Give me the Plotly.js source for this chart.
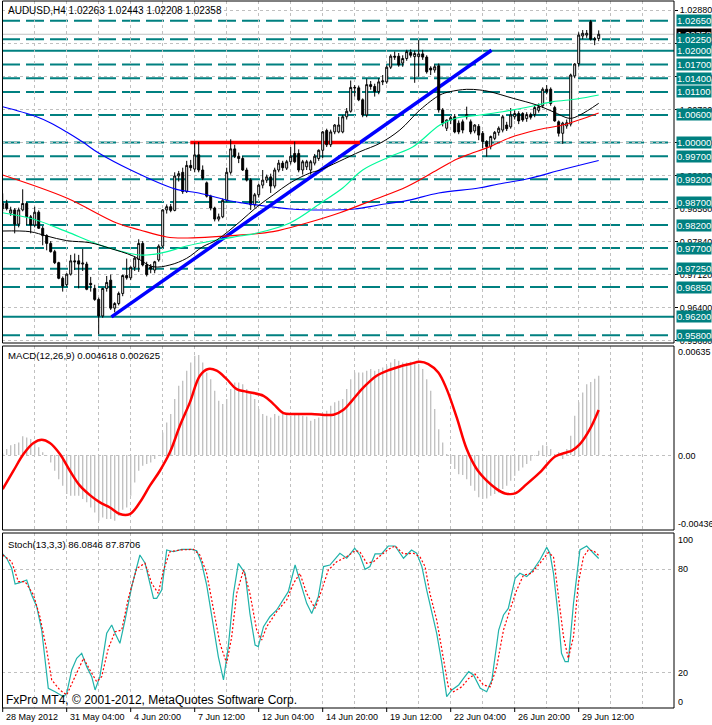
<!DOCTYPE html>
<html><head><meta charset="utf-8">
<script src="https://cdn.plot.ly/plotly-3.0.1.min.js"></script>
<style>html,body{margin:0;padding:0;background:#fff}#chart{width:712px;height:725px}</style>
</head><body><div id="chart"></div>
<script>
const symbol = 'AUDUSD,H4';
const open = [
.9856,.9867,.9846,.9853,.9822,.9853,.9867,.9838,.9820,.9848,
.9813,.9797,.9780,.9762,.9738,.9704,.9690,.9713,.9742,.9742,
.9735,.9735,.9693,.9682,.9658,.9622,.9682,.9700,.9639,.9649,
.9671,.9710,.9705,.9728,.9745,.9780,.9733,.9729,.9722,.9744,
.9774,.9853,.9860,.9852,.9927,.9935,.9893,.9950,.9942,.9973,
.9940,.9912,.9883,.9857,.9833,.9838,.9874,.9935,.9986,.9970,
.9965,.9940,.9918,.9864,.9886,.9907,.9918,.9925,.9905,.9940,
.9955,.9944,.9958,.9976,.9976,.9940,.9947,.9940,.9955,.9965,
.9983,1.0026,.9995,1.0023,1.0023,1.0023,1.0056,1.0068,1.0120,1.0119,
1.0093,1.0060,1.0126,1.0122,1.0111,1.0132,1.0132,1.0164,1.0188,1.0188,
1.0173,1.0183,1.0196,1.0187,1.0187,1.0193,1.0186,1.0162,1.0158,1.0167,
1.0071,1.0031,1.0049,1.0056,1.0042,1.0045,1.0056,1.0045,1.0025,1.0035,
1.0020,1.0002,.9991,1.0009,1.0022,1.0027,1.0038,1.0034,1.0056,1.0063,
1.0063,1.0052,1.0061,1.0061,1.0070,1.0080,1.0116,1.0116,1.0076,1.0045,
1.0020,1.0036,1.0040,1.0145,1.0172,1.0232,1.0234,1.0263,1.0226,1.02263];
const high = [
.9889,.9875,.9860,.9857,.9858,.9898,.9870,.9842,.9860,.9852,
.9818,.9800,.9785,.9766,.9740,.9708,.9715,.9755,.9758,.9755,
.9768,.9740,.9707,.9690,.9662,.9683,.9709,.9712,.9652,.9675,
.9712,.9747,.9730,.9752,.9789,.9785,.9740,.9735,.9742,.9778,
.9855,.9865,.9866,.9935,.9938,.9945,.9960,.9962,1.0000,1.0001,
.9950,.9915,.9886,.9860,.9845,.9878,.9945,1.0007,.9995,.9978,
.9970,.9945,.9922,.9890,.9910,.9940,.9930,.9932,.9945,.9962,
.9960,.9962,.9990,1.0002,.9985,.9962,.9962,.9962,.9975,.9985,
1.0025,1.0030,1.0028,1.0040,1.0056,1.0060,1.0075,1.0135,1.0125,1.0124,
1.0096,1.0139,1.0134,1.0128,1.0140,1.0147,1.0168,1.0192,1.0198,1.0195,
1.0190,1.0202,1.0203,1.0200,1.0223,1.0202,1.0190,1.0166,1.0170,1.0172,
1.0075,1.0050,1.0058,1.0062,1.0048,1.0050,1.0078,1.0050,1.0040,1.0040,
1.0025,1.0005,1.0015,1.0025,1.0035,1.0060,1.0045,1.0075,1.0070,1.0068,
1.0066,1.0066,1.0065,1.0080,1.0085,1.0120,1.0125,1.0120,1.0080,1.0048,
1.0045,1.0050,1.0150,1.0173,1.0240,1.0245,1.0245,1.0267,1.0230,1.02443];
const low = [
.9850,.9852,.9840,.9802,.9815,.9850,.9820,.9802,.9815,.9812,
.9776,.9765,.9760,.9735,.9702,.9675,.9686,.9710,.9722,.9682,
.9720,.9678,.9675,.9655,.9582,.9618,.9675,.9635,.9630,.9645,
.9665,.9701,.9700,.9720,.9718,.9730,.9708,.9715,.9715,.9740,
.9770,.9845,.9848,.9850,.9915,.9888,.9890,.9938,.9935,.9935,
.9918,.9880,.9852,.9828,.9828,.9835,.9870,.9930,.9966,.9955,
.9938,.9915,.9853,.9858,.9880,.9900,.9912,.9890,.9900,.9935,
.9938,.9940,.9952,.9955,.9935,.9930,.9940,.9930,.9950,.9960,
.9966,.9990,.9990,1.0018,1.0020,1.0020,1.0050,1.0065,1.0100,1.0090,
1.0055,1.0055,1.0115,1.0100,1.0105,1.0125,1.0128,1.0160,1.0180,1.0165,
1.0165,1.0178,1.0185,1.0130,1.0143,1.0180,1.0150,1.0147,1.0152,1.0065,
1.0035,1.0025,1.0040,1.0020,1.0018,1.0020,1.0050,1.0018,1.0020,1.0005,
.9987,.9969,.9985,1.0005,1.0015,1.0022,1.0025,1.0030,1.0050,1.0040,
1.0045,1.0045,1.0050,1.0055,1.0065,1.0075,1.0105,1.0080,1.0045,1.0013,
.9997,1.0030,1.0035,1.0140,1.0165,1.0225,1.0228,1.0222,1.0212,1.02208];
const close = [
.9867,.9856,.9853,.9822,.9853,.9867,.9838,.9820,.9848,.9813,
.9797,.9780,.9762,.9738,.9704,.9687,.9713,.9742,.9740,.9735,
.9737,.9680,.9690,.9658,.9622,.9682,.9695,.9639,.9649,.9671,
.9710,.9705,.9728,.9748,.9780,.9733,.9712,.9724,.9740,.9774,
.9853,.9860,.9852,.9927,.9932,.9893,.9950,.9945,.9973,.9940,
.9922,.9883,.9857,.9833,.9838,.9874,.9935,.9986,.9970,.9965,
.9940,.9918,.9864,.9886,.9907,.9918,.9925,.9905,.9940,.9955,
.9945,.9958,.9970,.9958,.9940,.9958,.9958,.9958,.9970,.9983,
1.0023,.9995,1.0023,1.0038,1.0038,1.0056,1.0068,1.0120,1.0119,1.0093,
1.0060,1.0126,1.0122,1.0111,1.0132,1.0134,1.0164,1.0188,1.0186,1.0169,
1.0183,1.0198,1.0190,1.0194,1.0193,1.0186,1.0154,1.0158,1.0165,1.0071,
1.0042,1.0049,1.0054,1.0023,1.0023,1.0027,1.0061,1.0023,1.0038,1.0016,
1.0002,.9991,1.0013,1.0022,1.0031,1.0056,1.0030,1.0060,1.0063,1.0047,
1.0049,1.0061,1.0055,1.0076,1.0078,1.0116,1.0111,1.0085,1.0047,1.0020,
1.0042,1.0043,1.0147,1.0171,1.0234,1.0238,1.0238,1.0225,1.0224,1.02358];

const maBlackX = [0,6.8,11,16,21.8,26.8,32.6,37.6,41.8,46,50,53.5,59.3,63.6,67.6,71.8,76.8,79.3,89.3,94.3,99.3,104.3,109.3,111.8,116,119.3,121.8,127.6,133.5,137.6,141.8,144.3,149];
const maBlackY = [0.98070,0.98056,0.97962,0.97860,0.97816,0.97694,0.97526,0.97293,0.97330,0.97476,0.97728,0.97875,0.98273,0.98600,0.98855,0.99116,0.99334,0.99400,0.99799,0.99982,1.00272,1.00707,1.01034,1.01106,1.01158,1.01143,1.01106,1.00962,1.00816,1.00670,1.00526,1.00598,1.00853];
const maGreenX = [0,7.6,16,24.3,34.3,40,46,53.5,59.3,63.6,71.8,80,85,90,96.8,102.6,109.3,113.5,119.3,125,132.6,137.6,143.5,149];
const maGreenY = [0.98469,0.98332,0.98056,0.97766,0.97548,0.97598,0.97744,0.97875,0.97962,0.98027,0.98245,0.98709,0.99008,0.99400,0.99690,0.99908,1.00381,1.00533,1.00598,1.00670,1.00795,1.00888,1.00947,1.01034];
const maRedX = [0,16,28.5,34.3,41,45,59,67.6,76,84.3,92.6,101,108.6,113.6,116.8,121.8,126.8,133.5,140,149];
const maRedY = [0.99291,0.98790,0.98245,0.98092,0.97940,0.97918,0.97983,0.98056,0.98245,0.98469,0.98746,0.99036,0.99400,0.99640,0.99749,0.99909,1.00104,1.00272,1.00381,1.00642];
const maBlueX = [0,8,12,16,20,24,32,43,49,57,60,72,80,88,94,101,109,119,124,131,140,149];
const maBlueY = [1.00779,1.00577,1.00424,1.00228,1.00010,0.99770,0.99400,0.98990,0.98899,0.98724,0.98681,0.98550,0.98528,0.98550,0.98637,0.98732,0.98899,0.99008,0.99095,0.99204,0.99411,0.99607];

const trendX = [27.2, 122.2];
const trendY = [0.9620, 1.0201];
const resistX = [46.9, 89.3];
const resistY = [1.0000, 1.0000];

const levels = [1.0265,1.0225,1.0200,1.0170,1.0140,1.0110,1.0060,1.0000,0.9970,0.9920,0.9870,0.9820,0.9770,0.9725,0.9685,0.9620,0.9580];
const solidLevels = [1.0200, 0.9620];
const priceTicks = [1.0288,1.0216,1.0144,1.0072,1.0000,0.9928,0.9856,0.9784,0.9712,0.9640,0.9568];

const macdHist = [
0.0001,0.00035,0.00058,0.00064,0.00074,0.00109,0.00103,0.00093,0.00074,0.00045,
0.00016,-0.00004,-0.00043,-0.00091,-0.0014,-0.00178,-0.00227,-0.00237,-0.00237,-0.00237,
-0.00256,-0.00275,-0.00305,-0.00334,-0.00382,-0.00363,-0.00372,-0.00372,-0.00382,-0.00353,
-0.00318,-0.00305,-0.00237,-0.00159,-0.00091,-0.00062,-0.00052,-0.00043,-0.00023,-0.00004,
0.00132,0.0019,0.00239,0.00326,0.00404,0.00433,0.00491,0.00539,0.00578,0.00582,
0.00539,0.00481,0.00442,0.00374,0.00316,0.00297,0.00326,0.00384,0.00423,0.00423,
0.00413,0.00384,0.00355,0.00326,0.00268,0.00239,0.00229,0.00219,0.00239,0.00229,
0.00239,0.00233,0.00229,0.00233,0.00239,0.00229,0.00225,0.002,0.0021,0.00219,
0.00229,0.00258,0.00287,0.00307,0.00316,0.00326,0.00384,0.00442,0.00481,0.00481,
0.00481,0.00491,0.00501,0.00491,0.00501,0.0051,0.0052,0.00539,0.00559,0.00549,
0.00539,0.00539,0.00543,0.00539,0.0053,0.00501,0.00442,0.00374,0.00268,0.00151,
0.00074,0.00006,-0.00052,-0.00081,-0.00111,-0.00116,-0.0014,-0.00178,-0.00208,-0.00246,
-0.00256,-0.00252,-0.00237,-0.00227,-0.00217,-0.00198,-0.00178,-0.00149,-0.0012,-0.00091,
-0.00072,-0.00052,-0.00033,-0.00004,0.00025,0.00058,0.00054,0.00035,0.00006,0.00016,
-0.00023,0.00035,0.00113,0.00229,0.00307,0.00365,0.00413,0.00425,0.00445,0.004618];
const macdSigX = [0,2.7,5.2,7.7,9.75,11.8,14.3,16.8,19.3,21.8,24.3,26.8,29.3,31.8,34.3,36.8,39.3,41.8,44.3,46.8,49.3,51.4,53.5,56,58.5,61,65.2,67.7,70.2,72.7,77.2,82.7,85.2,87.3,90.2,93.5,96.8,99.3,101.8,104.3,106.4,108.9,111,113.5,116,118.5,121,123.5,125.6,128.1,131,134.3,138.1,141,142.2,144.3,146.8,149];
const macdSigY = [-0.00198,-0.00091,0.00006,0.0007,0.00089,0.0007,0.00006,-0.00091,-0.00178,-0.00233,-0.00275,-0.00305,-0.00343,-0.00343,-0.00275,-0.00178,-0.00091,0.00016,0.00171,0.00307,0.00462,0.00501,0.00491,0.00442,0.00384,0.00369,0.00345,0.00297,0.00244,0.00239,0.00239,0.00235,0.00264,0.00316,0.00394,0.00462,0.00497,0.00516,0.0053,0.00543,0.0053,0.00481,0.00384,0.00219,0.00035,-0.00081,-0.00149,-0.00198,-0.00223,-0.00223,-0.00169,-0.00101,-0.00008,0.00016,0.00025,0.00064,0.00151,0.002625];

const stochMainX = [0,1,2.25,3.1,4.3,6,7.25,8.5,9.75,10.6,11.4,13.1,15.2,16,17.25,18.5,19.75,21,22.25,23.1,24.3,26,27.25,28.1,29.3,30.6,32.25,34.3,35.6,37.7,38.5,39.75,41,42.7,44.75,47.25,48.5,49.75,51,52.7,53.9,55.2,56.4,57.7,58.9,60.6,61.8,63.1,63.9,65.2,66.8,68.5,70.2,71.4,73.1,74.3,76,77.25,78.9,80.2,81.8,84.3,86,88,89.3,90.6,91.8,93.1,94.7,96.4,98.1,100.2,102.2,103.5,104.8,106,107.3,108.5,109.8,111,112.3,114,115.2,116.5,117.7,119.4,121,122.3,124,125.2,126.4,128.1,129.3,131,132.6,134.3,136,136.8,137.7,138.9,139.7,140.6,141.4,142.7,144.3,146,147.7,149];
const stochMainY = [88.7,86.2,80.4,71.3,72.1,73.6,65,58.2,44.7,25.4,11,9,6.1,8,21.6,28.3,31.2,23.5,17.7,10,17.7,42.8,47.6,42.8,37,50.5,69.8,88.1,83.3,63,63,67.8,91,90,91.4,91.4,90.6,83.3,70.7,46.6,29.3,15.8,35.1,65.9,83.3,77.5,54.3,36,35.1,46.6,52.4,56.3,62.1,66.9,82.3,73.6,60.1,54.3,64,81.4,82.3,89.1,86.2,92,88,79.8,81.4,88.7,88.7,93.3,93.3,86.2,91,89.1,81.4,67.8,54.3,42.8,25.4,6.1,10,12.9,16.7,20.6,18.7,11,9,15.8,44.7,53.4,57.2,74.6,77.5,75.6,79.4,85.2,92.5,89.1,77.5,52.4,31.2,26.4,26.4,60.1,91,93.3,89.1,86.0846];
const stochSigX = [0,2.25,3.9,5.6,7.7,9.3,11,12.25,14.3,16,17.7,20.2,21.8,23.5,24.75,26.4,28.1,29.75,31.4,33.5,35.6,37.25,38.9,40.2,41.8,44.3,47.7,49.3,51,52.7,54.3,56,57.25,58.5,60.2,61.8,63.5,64.75,66,68.5,71,72.7,74.3,76,78.1,79.75,81.4,83.5,86,88.1,89.3,91,92.7,94.3,96.4,98.1,100.2,102.7,104.3,105.6,106.8,108.5,110.2,111.4,112.7,114.8,116.5,118.1,120.2,121.9,123.5,125.2,126.8,128.5,130.2,132.2,134.3,136.4,137.7,138.9,140.2,141.4,142.7,143.9,145.2,146.4,147.7,149];
const stochSigY = [88.1,84.2,72.7,72.7,65,52.4,33.1,15.8,10,7.1,15.8,28.3,21.6,14.8,17.7,34.1,43.7,44.7,63,80.4,83.3,71.7,65.9,79.4,90,91,91.4,88.1,77.5,56.3,37,25.4,40.8,65.9,79.4,65.9,44.7,38.9,46.6,55.3,62.1,71.7,77.5,65.9,57.2,67.8,79.4,84.2,87.1,90.6,90,83.3,84.2,87.5,91.4,93.3,88.7,89.1,87.1,81.4,65.9,50.5,28.3,11.9,9,11.9,16.7,19.2,12.9,11.9,23.5,44.7,56.3,67.8,76.5,77.5,83.3,89.5,87.1,64,40.8,28.3,40.8,71.7,87.1,91,90.6,87.8706];

const timeLabelBars = [0,16,32,48,64,80,96,112,128,144];
const timeLabels = ['28 May 2012','31 May 04:00','4 Jun 20:00','7 Jun 12:00','12 Jun 04:00','14 Jun 20:00','19 Jun 12:00','22 Jun 04:00','26 Jun 20:00','29 Jun 12:00'];
const macdLabels = [0.00635, 0.00, -0.00436];
const stochLabels = [100, 80, 20, 0];

// ---------- layout helpers ----------
const W = 712, H = 725, ML = 2, MR = 38, MT = 1, MB = 17;
const plotH = H - MT - MB;
const P = y => (H - MB - y) / plotH;           // pixel row -> paper y
const X = x => (x - ML) / (W - ML - MR);       // pixel col -> paper x
const FONT = 'Liberation Sans, Arial, sans-serif';
const GRID = '#c0c0c0';
const bars = open.map((_, i) => i);
const gridBars = [];
for (let g = 8; g <= 160; g += 8) gridBars.push(g);
const last = close.length - 1;

const traces = [
  {type:'candlestick', x:bars, open:open, high:high, low:low, close:close, xaxis:'x', yaxis:'y',
   increasing:{line:{color:'#000', width:1}, fillcolor:'#ffffff'},
   decreasing:{line:{color:'#000', width:1}, fillcolor:'#000000'},
   whiskerwidth:0, hoverinfo:'skip'},
  {type:'scatter', mode:'lines', x:maBlueX, y:maBlueY, yaxis:'y', line:{color:'#0000ff', width:1.2, shape:'spline'}},
  {type:'scatter', mode:'lines', x:maRedX, y:maRedY, yaxis:'y', line:{color:'#ff0000', width:1.2, shape:'spline'}},
  {type:'scatter', mode:'lines', x:maGreenX, y:maGreenY, yaxis:'y', line:{color:'#00fa9a', width:1.2, shape:'spline'}},
  {type:'scatter', mode:'lines', x:maBlackX, y:maBlackY, yaxis:'y', line:{color:'#000000', width:1, shape:'spline'}},
  {type:'bar', x:bars, y:macdHist, yaxis:'y2', width:0.33, marker:{color:'#c0c0c0', line:{width:0}}},
  {type:'scatter', mode:'lines', x:macdSigX, y:macdSigY, yaxis:'y2', line:{color:'#ff0000', width:2.5, shape:'spline'}},
  {type:'scatter', mode:'lines', x:stochMainX, y:stochMainY, yaxis:'y3', line:{color:'#20b2aa', width:1.2}},
  {type:'scatter', mode:'lines', x:stochSigX, y:stochSigY, yaxis:'y3', line:{color:'#ff0000', width:1.2, dash:'2px,2px'}}
];

const shapes = [];
levels.forEach(lv => {
  const solid = solidLevels.indexOf(lv) >= 0;
  shapes.push({type:'line', xref:'paper', x0:0, x1:1, yref:'y', y0:lv, y1:lv, layer:'between',
    line:{color:'#008080', width:2, dash: solid ? 'solid' : '18px,6px'}});
});
shapes.push({type:'line', xref:'paper', x0:0, x1:1, yref:'y', y0:close[last], y1:close[last], layer:'between',
  line:{color:'#c0c0c0', width:1}});
shapes.push({type:'line', xref:'x', yref:'y', x0:trendX[0], y0:trendY[0], x1:trendX[1], y1:trendY[1], layer:'between',
  line:{color:'#0000ff', width:3.5}});
shapes.push({type:'line', xref:'x', yref:'y', x0:resistX[0], y0:resistY[0], x1:resistX[1], y1:resistY[1], layer:'between',
  line:{color:'#ff0000', width:3.5}});
// pane borders
[[1,343],[346,530],[533,708]].forEach(([t,b]) => {
  shapes.push({type:'rect', xref:'paper', yref:'paper', x0:X(2.5), x1:X(674), y0:P(b), y1:P(t),
    line:{color:'#000', width:1}, layer:'above'});
});
// time tick marks
timeLabelBars.forEach(b => {
  shapes.push({type:'line', xref:'x', yref:'paper', x0:b, x1:b, y0:P(708), y1:P(712), line:{color:'#000', width:1}});
});

const ann = [];
const txt = (text, x, y, size, extra) => Object.assign({text:text, xref:'paper', yref:'paper', x:x, y:y,
  xanchor:'left', yanchor:'middle', showarrow:false, font:{family:FONT, size:size, color:'#000'}}, extra || {});
ann.push(txt(symbol + ' ' + [open[last], high[last], low[last], close[last]].map(v => v.toFixed(5)).join(' '), X(6), P(10.5), 10));
ann.push(txt('MACD(12,26,9) ' + macdHist[last].toFixed(6) + ' ' + macdSigY[macdSigY.length-1].toFixed(6), X(6), P(355.5), 9.6));
ann.push(txt('Stoch(13,3,3) ' + stochMainY[stochMainY.length-1].toFixed(4) + ' ' + stochSigY[stochSigY.length-1].toFixed(4), X(6), P(544), 9.6));
ann.push(txt('FxPro MT4, \u00a9 2001-2012, MetaQuotes Software Corp.', X(4), P(700), 12));
// current price box (black)
ann.push({text:close[last].toFixed(5), xref:'paper', x:1, xanchor:'left', xshift:2, yref:'y', y:close[last], yanchor:'middle',
  showarrow:false, bgcolor:'#000', borderpad:0, font:{family:FONT, size:9.5, color:'#fff'}});
// level boxes (teal)
levels.forEach(lv => {
  ann.push({text:lv.toFixed(5), xref:'paper', x:1, xanchor:'left', xshift:2, yref:'y', y:lv, yanchor:'middle',
    showarrow:false, bgcolor:'#008080', borderpad:0, font:{family:FONT, size:9.5, color:'#fff'}});
});
// MACD pane labels
const macdPix = [352.3, 456, 524];
macdLabels.forEach((v, k) => ann.push(txt(k === 1 ? v.toFixed(2) : v.toFixed(5), 1, P(macdPix[k]), 9, {xshift:2})));
// Stoch pane labels
const stochPix = [540, 569, 672.7, 701.7];
stochLabels.forEach((v, k) => ann.push(txt(String(v), 1, P(stochPix[k]), 9, {xshift:2})));
// time labels
timeLabelBars.forEach((b, k) => ann.push({text:timeLabels[k], xref:'x', x:b, xanchor:'left', xshift:1,
  yref:'paper', y:P(717), yanchor:'middle', showarrow:false, font:{family:FONT, size:9, color:'#000'}}));

const gridAxis = {showgrid:true, gridcolor:GRID, gridwidth:1, griddash:'3px,3px', zeroline:false, showline:false, fixedrange:true};
const layout = {
  width:W, height:H, margin:{l:ML, r:MR, t:MT, b:MB, pad:0},
  paper_bgcolor:'#ffffff', plot_bgcolor:'#ffffff', showlegend:false, boxgap:0.3, hovermode:false,
  xaxis: Object.assign({}, gridAxis, {range:[-0.175, 167.825], anchor:'y3', tickmode:'array', tickvals:gridBars,
    showticklabels:false, ticks:'', rangeslider:{visible:false}}),
  yaxis: Object.assign({}, gridAxis, {domain:[P(343), 1], range:[0.956301, 1.030827], side:'right', anchor:'x',
    tickmode:'array', tickvals:priceTicks, ticktext:priceTicks.map(v => v.toFixed(5)), ticks:'outside', ticklen:3,
    tickcolor:'#000', tickfont:{family:FONT, size:9, color:'#000'}}),
  yaxis2: Object.assign({}, gridAxis, {domain:[P(530), P(346)], range:[-0.00436, 0.00635], anchor:'x', side:'right',
    tickmode:'array', tickvals:[0], showticklabels:false}),
  yaxis3: Object.assign({}, gridAxis, {domain:[0, P(533)], range:[-0.43, 100.83], anchor:'x', side:'right',
    tickmode:'array', tickvals:[20, 80], showticklabels:false}),
  shapes:shapes, annotations:ann
};
Plotly.newPlot('chart', traces, layout, {staticPlot:true, displayModeBar:false});
</script></body></html>
